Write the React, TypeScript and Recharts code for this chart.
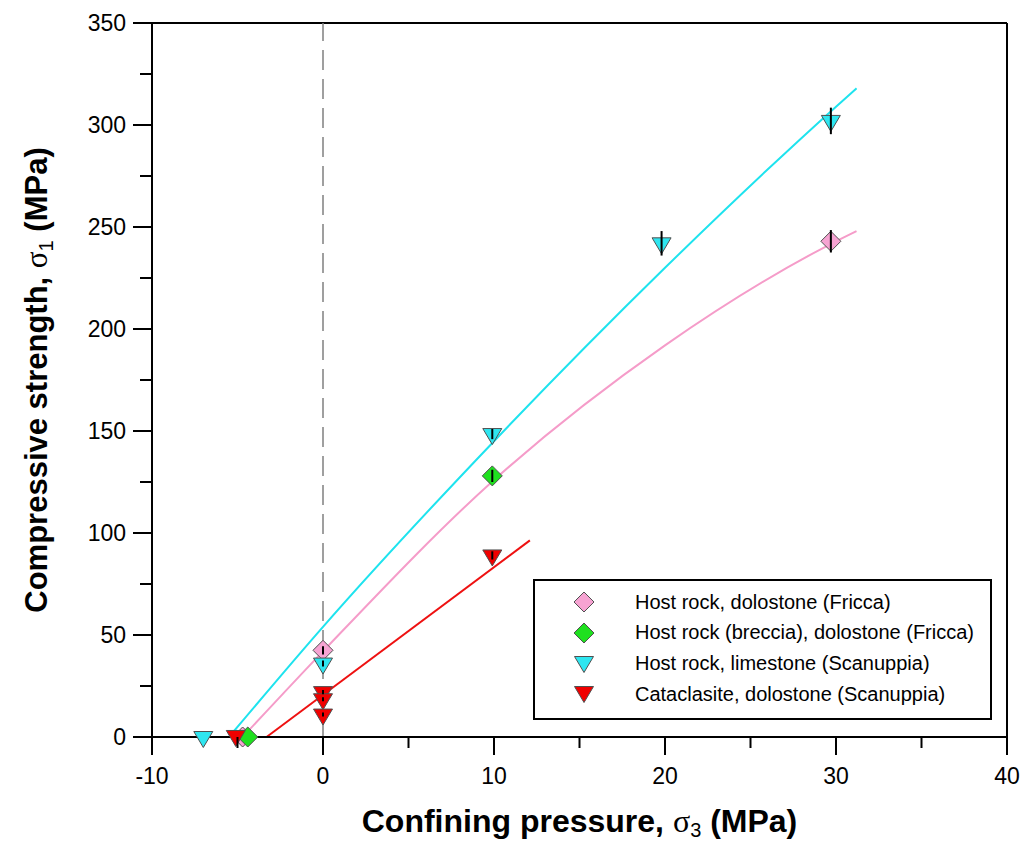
import {
  ComposedChart,
  ErrorBar,
  Label,
  Line,
  ReferenceLine,
  Scatter,
  XAxis,
  YAxis,
} from 'recharts';

const FONT = '"Liberation Sans", Arial, sans-serif';

const xTicks = [-10, -5, 0, 5, 10, 15, 20, 25, 30, 35, 40];
const yTicks = [0, 25, 50, 75, 100, 125, 150, 175, 200, 225, 250, 275, 300, 325, 350];

// measured points (confining pressure, strength, error)
const friccaX = [-4.7, 0, 29.7];
const friccaY = [0, 42.5, 243];
const friccaErr = [0, 2, 5.5];

const brecciaX = [-4.4, 9.9];
const brecciaY = [0, 128];
const brecciaErr = [0, 3];

const limestoneX = [-7, 0, 9.9, 19.8, 29.7];
const limestoneY = [0, 36, 148.5, 242, 302];
const limestoneErr = [0, 1.5, 2.5, 6, 6.5];

const cataclasiteX = [-5.1, 0, 0, 0, 9.9];
const cataclasiteY = [0.5, 22, 18.5, 11, 89];
const cataclasiteErr = [0, 1, 1, 1, 2];

// failure envelopes
const friccaFitX = [-4.7, 0, 10, 20, 30, 31.2];
const friccaFitY = [0, 42, 126, 192, 243, 248];
const limestoneFitX = [-5.5, 0, 10, 20, 30, 31.2];
const limestoneFitY = [0, 54, 145, 230, 309, 318];
const cataclasiteFitX = [-3.3, 12.1];
const cataclasiteFitY = [0, 96.4];

const zip = (xs: number[], ys: number[], es?: number[]) =>
  xs.map((x, i) => ({ x, y: ys[i], err: es ? es[i] : 0 }));

const PINK = '#f6a3d2';
const GREEN = '#1fe01f';
const CYAN = '#2ee6f0';
const RED = '#f00000';

const diamond = (fill: string) => (p: any) => {
  const { cx, cy } = p;
  return (
    <path
      d={`M${cx},${cy - 10}L${cx + 10},${cy}L${cx},${cy + 10}L${cx - 10},${cy}Z`}
      fill={fill}
      stroke="#505050"
      strokeWidth={1}
    />
  );
};

const triDown = (fill: string) => (p: any) => {
  const { cx, cy } = p;
  return (
    <path
      d={`M${cx - 9.5},${cy - 5.5}L${cx + 9.5},${cy - 5.5}L${cx},${cy + 10.5}Z`}
      fill={fill}
      stroke="#505050"
      strokeWidth={1}
    />
  );
};

const series = [
  { name: 'Host rock, dolostone (Fricca)', color: PINK, kind: 'diamond', data: zip(friccaX, friccaY, friccaErr) },
  { name: 'Host rock (breccia), dolostone (Fricca)', color: GREEN, kind: 'diamond', data: zip(brecciaX, brecciaY, brecciaErr) },
  { name: 'Host rock, limestone (Scanuppia)', color: CYAN, kind: 'tri', data: zip(limestoneX, limestoneY, limestoneErr) },
  { name: 'Cataclasite, dolostone (Scanuppia)', color: RED, kind: 'tri', data: zip(cataclasiteX, cataclasiteY, cataclasiteErr) },
];

const fits = [
  { color: '#f59cc9', data: zip(friccaFitX, friccaFitY) },
  { color: '#1ee3ee', data: zip(limestoneFitX, limestoneFitY) },
  { color: '#ee1111', data: zip(cataclasiteFitX, cataclasiteFitY) },
];

const errorPoints = series.flatMap((s) => s.data.filter((d) => d.err > 0));

const XTick = (props: any) => {
  const { x, y, payload } = props;
  const v = payload.value;
  const major = v % 10 === 0;
  return (
    <g>
      <line x1={x} x2={x} y1={y} y2={y + (major ? 18 : 11)} stroke="#000" strokeWidth={2} />
      {major && (
        <text x={x} y={y + 47} textAnchor="middle" fontSize={23} fontFamily={FONT} fill="#000">
          {v}
        </text>
      )}
    </g>
  );
};

const YTick = (props: any) => {
  const { x, y, payload } = props;
  const v = payload.value;
  const major = v % 50 === 0;
  return (
    <g>
      <line x1={x - (major ? 19 : 12)} x2={x} y1={y} y2={y} stroke="#000" strokeWidth={2} />
      {major && (
        <text x={x - 26} y={y} dy="0.36em" textAnchor="end" fontSize={23} fontFamily={FONT} fill="#000">
          {v}
        </text>
      )}
    </g>
  );
};

const XTitle = (props: any) => {
  const vb = props.viewBox;
  return (
    <text
      x={vb.x + vb.width / 2}
      y={vb.y + 95}
      textAnchor="middle"
      fontSize={32}
      fontWeight="bold"
      fontFamily={FONT}
      fill="#000"
    >
      Confining pressure,{' '}
      <tspan fontFamily='"Liberation Serif", serif' fontWeight="normal">σ</tspan>
      <tspan fontSize={20} fontWeight="normal" dy={5}>3</tspan>
      <tspan dy={-5}> (MPa)</tspan>
    </text>
  );
};

const YTitle = (props: any) => {
  const vb = props.viewBox;
  const cy = vb.y + vb.height / 2;
  return (
    <text
      transform={`translate(47,${cy}) rotate(-90)`}
      textAnchor="middle"
      fontSize={31}
      fontWeight="bold"
      fontFamily={FONT}
      fill="#000"
    >
      Compressive strength,{' '}
      <tspan fontFamily='"Liberation Serif", serif' fontWeight="normal">σ</tspan>
      <tspan fontSize={20} fontWeight="normal" dy={6}>1</tspan>
      <tspan dy={-6}> (MPa)</tspan>
    </text>
  );
};

const LegendBox = () => (
  <div
    style={{
      position: 'absolute',
      left: 533,
      top: 579,
      width: 455,
      height: 137,
      border: '2px solid #000',
      background: '#fff',
      fontFamily: FONT,
      fontSize: 20,
      color: '#000',
    }}
  >
    {series.map((s, i) => (
      <div
        key={s.name}
        style={{ position: 'absolute', left: 0, top: 6 + i * 30.8, height: 30, display: 'flex', alignItems: 'center' }}
      >
        <svg width={100} height={30}>
          {s.kind === 'diamond'
            ? diamond(s.color)({ cx: 49, cy: 15 })
            : triDown(s.color)({ cx: 49, cy: 13 })}
        </svg>
        <span>{s.name}</span>
      </div>
    ))}
  </div>
);

export default function App() {
  return (
    <div style={{ position: 'absolute', left: 0, top: 0, width: 1024, height: 841, background: '#fff' }}>
      <ComposedChart
        width={1024}
        height={841}
        margin={{ top: 23, right: 17, bottom: 44, left: 52 }}
      >
        <XAxis
          type="number"
          dataKey="x"
          domain={[-10, 40]}
          ticks={xTicks}
          interval={0}
          height={60}
          tickSize={0}
          tickMargin={0}
          tickLine={false}
          tick={<XTick />}
          axisLine={{ stroke: '#000', strokeWidth: 2 }}
        >
          <Label content={<XTitle />} />
        </XAxis>
        <YAxis
          type="number"
          dataKey="y"
          domain={[0, 350]}
          ticks={yTicks}
          interval={0}
          width={100}
          tickSize={0}
          tickMargin={0}
          tickLine={false}
          tick={<YTick />}
          axisLine={{ stroke: '#000', strokeWidth: 2 }}
        >
          <Label content={<YTitle />} />
        </YAxis>
        <ReferenceLine y={350} stroke="#000" strokeWidth={2} />
        <ReferenceLine x={40} stroke="#000" strokeWidth={2} />
        <ReferenceLine x={0} stroke="#808080" strokeWidth={1.5} strokeDasharray="20 9" />
        {fits.map((f, i) => (
          <Line
            key={`fit-${i}`}
            data={f.data}
            dataKey="y"
            type="monotone"
            stroke={f.color}
            strokeWidth={2}
            dot={false}
            activeDot={false}
            legendType="none"
            isAnimationActive={false}
          />
        ))}
        {series.map((s) => (
          <Scatter
            key={s.name}
            name={s.name}
            data={s.data}
            dataKey="y"
            fill={s.color}
            shape={s.kind === 'diamond' ? diamond(s.color) : triDown(s.color)}
            isAnimationActive={false}
          />
        ))}
        <Scatter
          data={errorPoints}
          dataKey="y"
          shape={() => <g />}
          legendType="none"
          isAnimationActive={false}
          {...({ zIndex: 700 } as any)}
        >
          <ErrorBar
            dataKey="err"
            direction="y"
            width={0}
            stroke="#000"
            strokeWidth={2}
            {...({ zIndex: 700 } as any)}
          />
        </Scatter>
      </ComposedChart>
      <LegendBox />
    </div>
  );
}
